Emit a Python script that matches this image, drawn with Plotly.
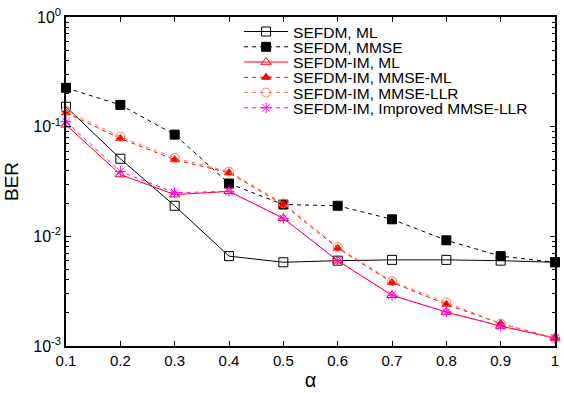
import plotly.graph_objects as go

alpha = [0.1, 0.2, 0.3, 0.4, 0.5, 0.6, 0.7, 0.8, 0.9, 1.0]
x_tick_labels = ["0.1", "0.2", "0.3", "0.4", "0.5", "0.6", "0.7", "0.8", "0.9", "1"]

sefdm_ml = [0.152, 0.051, 0.019, 0.0066, 0.0058, 0.0060, 0.0061, 0.0061, 0.0060, 0.0058]
sefdm_mmse = [0.226, 0.158, 0.0846, 0.0303, 0.0195, 0.0190, 0.0143, 0.0092, 0.0066, 0.0058]
im_ml = [0.104, 0.0366, 0.024, 0.0257, 0.0146, 0.0060, 0.0029, 0.00204, 0.00152, 0.00118]
im_mmse_ml = [0.134, 0.078, 0.050, 0.038, 0.0195, 0.0078, 0.0038, 0.0024, 0.0016, 0.00118]
im_mmse_llr = [0.140, 0.081, 0.052, 0.039, 0.0200, 0.0080, 0.0039, 0.0025, 0.0016, 0.00118]
im_improved = [0.111, 0.039, 0.025, 0.0257, 0.0146, 0.0060, 0.0029, 0.00204, 0.00152, 0.00118]

y_tick_vals = [1e-3, 1e-2, 1e-1, 1e0]
y_tick_text = ["10<sup>-3</sup>", "10<sup>-2</sup>", "10<sup>-1</sup>", "10<sup>0</sup>"]
y_minor_vals = [m * d for d in (1e-3, 1e-2, 1e-1) for m in range(2, 10)]

series = [
    ("SEFDM, ML", sefdm_ml, "black", "solid", "square-open", 9),
    ("SEFDM, MMSE", sefdm_mmse, "black", "4px,4px", "square", 9),
    ("SEFDM-IM, ML", im_ml, "#ff0000", "solid", "triangle-up-open", 9),
    ("SEFDM-IM, MMSE-ML", im_mmse_ml, "#ff0000", "4px,4px", "triangle-up", 8),
    ("SEFDM-IM, MMSE-LLR", im_mmse_llr, "#ff7f50", "4px,4px", "circle-open", 9),
    ("SEFDM-IM, Improved MMSE-LLR", im_improved, "#ff00ff", "4px,4px", "asterisk-open", 9),
]

W, H = 564, 393
PLOT_H = 330
legend_names = ["legend", "legend2", "legend3", "legend4", "legend5", "legend6"]

fig = go.Figure()
for i, (name, vals, color, dash, sym, size) in enumerate(series):
    fig.add_trace(go.Scatter(
        x=alpha, y=vals, name=name, mode="lines+markers", cliponaxis=False,
        legend=legend_names[i],
        line=dict(color=color, width=1, dash=dash),
        marker=dict(symbol=sym, size=size, color=color, line=dict(color=color, width=1)),
    ))

axis_common = dict(
    showline=True, linecolor="black", linewidth=1.5, mirror="ticks",
    ticks="inside", tickcolor="black", ticklen=5, showgrid=False, zeroline=False,
    ticklabeloverflow="allow",
)

layout_legends = {}
for i, ln in enumerate(legend_names):
    row_px = 15 + 15.3 * i  # distance of row centre below plot top
    layout_legends[ln] = dict(
        x=0.354, y=1 - row_px / PLOT_H, xanchor="left", yanchor="middle",
        bgcolor="rgba(0,0,0,0)", borderwidth=0, itemwidth=44,
        font=dict(family="Liberation Sans, Arial", size=15.5, color="black"),
    )

fig.update_layout(
    width=W, height=H,
    margin=dict(l=66, r=5, t=17, b=46),
    paper_bgcolor="white", plot_bgcolor="white",
    font=dict(family="Liberation Sans, Arial", color="black"),
    showlegend=True,
    xaxis=dict(range=[0.1, 1.0], tickvals=alpha, ticktext=x_tick_labels,
               tickfont=dict(size=15),
               title=dict(text="α", font=dict(size=20), standoff=5), **axis_common),
    yaxis=dict(type="log", range=[-3, 0], tickvals=y_tick_vals, ticktext=y_tick_text,
               tickfont=dict(size=16),
               title=dict(text="BER", font=dict(size=19), standoff=10),
               minor=dict(tickmode="array", tickvals=y_minor_vals, ticks="inside",
                          ticklen=3, tickcolor="black"),
               **axis_common),
    **layout_legends,
)

fig.write_html("out.html", config={"displayModeBar": False},
               post_script="document.body.style.margin='0px';")
